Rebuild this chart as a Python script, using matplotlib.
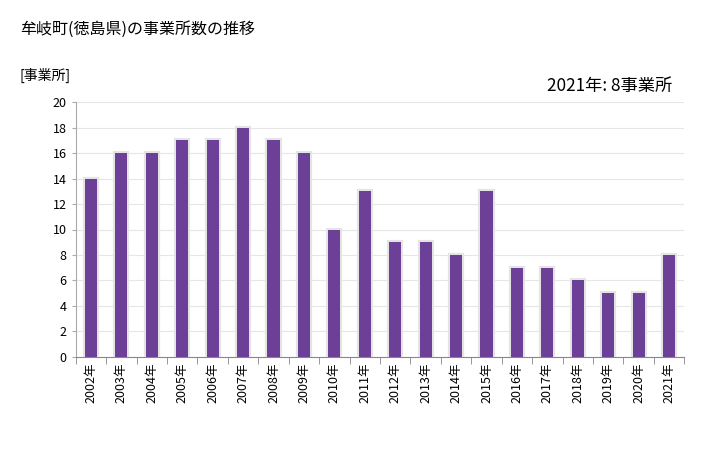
import numpy as np
import matplotlib.pyplot as plt
from matplotlib import patheffects

plt.rcParams['font.family'] = ['Noto Sans CJK JP', 'DejaVu Sans']

years = [f'{y}年' for y in range(2002, 2022)]
counts = [14, 16, 16, 17, 17, 18, 17, 16, 10, 13, 9, 9, 8, 13, 7, 7, 6, 5, 5, 8]

fig = plt.figure(figsize=(7.28, 4.5), dpi=100)
ax = fig.add_axes([0.104, 0.207, 0.836, 0.566])

x = np.arange(len(years))
bars = ax.bar(x, counts, width=0.4, color='#6c4096', zorder=3)
for b in bars:
    b.set_path_effects([patheffects.withStroke(linewidth=3, foreground='#e4e4e4'),
                        patheffects.Normal()])

ax.set_xlim(-0.5, len(years) - 0.5)
ax.set_ylim(0, 20)
ax.set_yticks(range(0, 21, 2))
ax.set_xticks(x)
ax.set_xticklabels(years, rotation=90, fontsize=9)
ax.set_xticks(np.arange(-0.5, len(years), 1), minor=True)
ax.tick_params(axis='x', which='major', length=0, pad=4)
ax.tick_params(axis='x', which='minor', length=5, color='#888888')
ax.tick_params(axis='y', length=3, color='#aaaaaa', labelsize=9)
ax.grid(axis='y', color='#e6e6e6', linewidth=0.8, zorder=0)
for s in ['top', 'right']:
    ax.spines[s].set_visible(False)
ax.spines['left'].set_color('#aaaaaa')
ax.spines['bottom'].set_color('#888888')

fig.text(0.027, 0.935, '牟岐町(徳島県)の事業所数の推移', fontsize=11.5, va='center')
fig.text(0.027, 0.833, '[事業所]', fontsize=10, va='center')
fig.text(0.923, 0.808, '2021年: 8事業所', fontsize=12.4, va='center', ha='right')

fig.savefig('out.png', dpi=100)
